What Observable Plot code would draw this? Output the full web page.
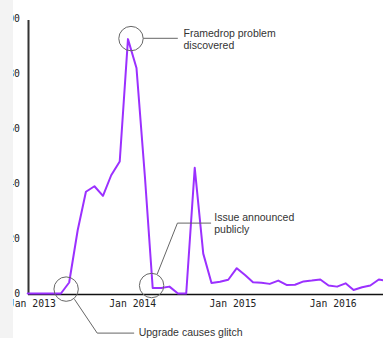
<!DOCTYPE html>
<html>
<head>
<meta charset="utf-8">
<script src="https://cdn.jsdelivr.net/npm/d3@7"></script>
<script src="https://cdn.jsdelivr.net/npm/@observablehq/plot@0.6"></script>
<style>
  html, body { margin: 0; padding: 0; background: #fff; }
  #wrap { position: relative; width: 383px; height: 338px; overflow: hidden; }
  #strip { position: absolute; left: 0; top: 0; width: 13px; height: 338px; background: #f3f3f3; z-index: 2; }
</style>
</head>
<body>
<div id="wrap"><div id="strip"></div></div>
<script>
// Monthly values (plotted mid-month)
const months = [
  "2012-12-15",
  "2013-01-15","2013-02-15","2013-03-15","2013-04-15","2013-05-15","2013-06-15",
  "2013-07-15","2013-08-15","2013-09-15","2013-10-15","2013-11-15","2013-12-15",
  "2014-01-15","2014-02-15","2014-03-15","2014-04-15","2014-05-15","2014-06-15",
  "2014-07-15","2014-08-15","2014-09-15","2014-10-15","2014-11-15","2014-12-15",
  "2015-01-15","2015-02-15","2015-03-15","2015-04-15","2015-05-15","2015-06-15",
  "2015-07-15","2015-08-15","2015-09-15","2015-10-15","2015-11-15","2015-12-15",
  "2016-01-15","2016-02-15","2016-03-15","2016-04-15","2016-05-15","2016-06-15",
  "2016-07-15"
];
const interest = [
  0,
  0, 0, 0, 0, 4, 23,
  37, 39, 35.5, 43, 48, 92.5,
  82, 42, 2, 2, 2.5, 0,
  0, 45.7, 14.5, 3.8, 4.3, 5,
  9.2, 6.6, 4.1, 3.9, 3.5, 4.7,
  3.1, 3.2, 4.4, 4.7, 5.1, 2.9,
  2.5, 3.7, 1.3, 2.3, 2.9, 5.1,
  4.5
];
const yTicks = [0, 20, 40, 60, 80, 100];
const xTicks = ["2013-01-01", "2014-01-01", "2015-01-01", "2016-01-01"];
const xDomain = ["2012-12-18", "2016-07-02"];

// Annotations (data coordinates)
const noteLabels = ["Framedrop problem\ndiscovered", "Upgrade causes glitch", "Issue announced\npublicly"];
const noteCircleDates = ["2013-12-26", "2013-05-04", "2014-03-11"];
const noteCircleValues = [92.7, 1.6, 2.9];
const noteTextDates = ["2014-07-05", "2014-01-23", "2014-10-25"];
const noteTextValues = [92.5, -14.0, 25.7];
const leaderDates = [
  ["2014-02-10", "2014-06-13"],
  ["2013-06-04", "2013-08-25", "2014-01-05"],
  ["2014-04-01", "2014-06-13", "2014-10-12"]
];
const leaderValues = [
  [92.8, 92.8],
  [-2.2, -14.4, -14.4],
  [7.2, 25.6, 25.6]
];

const series = months.map((m, i) => ({date: new Date(m), value: interest[i]}));
const circles = noteLabels.map((l, i) => ({date: new Date(noteCircleDates[i]), value: noteCircleValues[i]}));
const texts = noteLabels.map((l, i) => ({date: new Date(noteTextDates[i]), value: noteTextValues[i], label: l}));
const leaders = leaderDates.flatMap((ds, i) => ds.map((d, j) => ({note: i, date: new Date(d), value: leaderValues[i][j]})));

const chart = Plot.plot({
  width: 383,
  height: 338,
  marginLeft: 28,
  marginRight: 0,
  marginTop: 18,
  marginBottom: 45,
  style: {fontFamily: "DejaVu Sans Mono", fontSize: "9.75px", color: "#222", background: "transparent", overflow: "visible"},
  x: {type: "utc", domain: xDomain.map(d => new Date(d))},
  y: {domain: [0, 100]},
  marks: [
    Plot.axisY(yTicks, {tickSize: 0, tickPadding: 8.5, label: null, fill: "#222"}),
    Plot.axisX(xTicks.map(d => new Date(d)), {tickSize: 0, tickPadding: 7, label: null, fill: "#222", tickFormat: d3.utcFormat("%b %Y")}),
    Plot.ruleX([new Date(xDomain[0])], {y1: 0, y2: 99.3, stroke: "#333", strokeWidth: 2}),
    Plot.ruleY([0], {stroke: "#111", strokeWidth: 1.5, dy: 1}),
    Plot.line(series, {x: "date", y: "value", stroke: "#9b30ff", strokeWidth: 2, curve: "linear"}),
    Plot.dot(circles, {x: "date", y: "value", r: 12.2, fill: "none", stroke: "#666", strokeWidth: 1}),
    Plot.line(leaders, {x: "date", y: "value", z: "note", stroke: "#666", strokeWidth: 1}),
    Plot.text(texts, {x: "date", y: "value", text: "label", textAnchor: "start", lineAnchor: "middle", lineHeight: 1.2, fontFamily: "Liberation Sans", fontSize: 10.5, fill: "#333"})
  ]
});
document.getElementById("wrap").appendChild(chart);
</script>
</body>
</html>
